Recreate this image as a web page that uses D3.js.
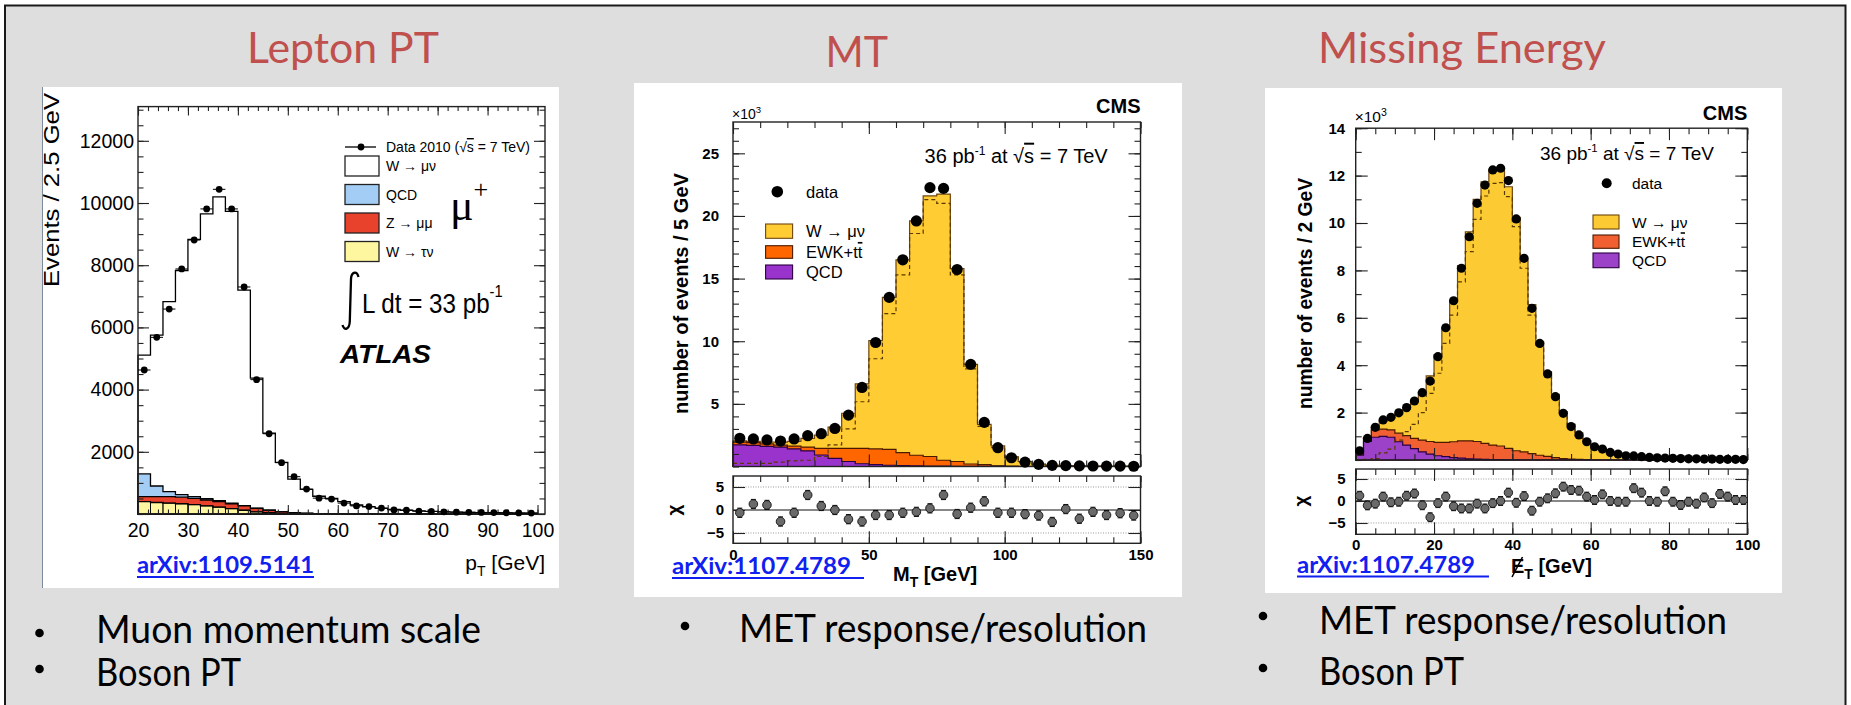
<!DOCTYPE html>
<html><head><meta charset="utf-8">
<script src="https://cdn.jsdelivr.net/npm/d3@7/dist/d3.min.js"></script>
<style>html,body{margin:0;padding:0;background:#fff;}svg{display:block;}</style>
</head><body>
<script>
// ================= DATA =================
const titles = ["Lepton PT", "MT", "Missing Energy"];
const bullets1 = ["Muon momentum scale", "Boson PT"];
const bullets2 = ["MET response/resolution"];
const bullets3 = ["MET response/resolution", "Boson PT"];
const links = ["arXiv:1109.5141", "arXiv:1107.4789 ", "arXiv:1107.4789 "];

// --- ATLAS lepton pT (bins 2.5 GeV) ---
const atlasEdges = [20,22.5,25,27.5,30,32.5,35,37.5,40,42.5,45,47.5,50,52.5,55,57.5,60,62.5,65,67.5,70,72.5,75,77.5,80,82.5,85,87.5,90,92.5,95,97.5,100];
const atlasData   = [4630,5680,6590,7880,8810,9810,10440,9810,7300,4320,2580,1650,1200,800,510,480,350,260,240,190,130,120,90,80,70,60,55,50,45,40,35,30];
const atlasWmunu  = [3820,4850,6110,7210,8270,9160,9770,9380,6930,4180,2475,1585,1075,765,558,494,396,288,229,180,150,120,100,85,70,60,50,45,40,35,30,25];
const atlasQCD    = [730,340,160,80,60,40,30,20,10,10,5,5,5,5,2,1,1,0,0,0,0,0,0,0,0,0,0,0,0,0,0,0];
const atlasZmumu  = [160,190,210,210,200,190,180,160,140,110,80,50,30,15,7,3,2,1,1,0,0,0,0,0,0,0,0,0,0,0,0,0];
const atlasWtaunu = [400,370,350,330,300,260,220,170,120,70,40,20,10,5,3,2,1,1,0,0,0,0,0,0,0,0,0,0,0,0,0,0];
const atlasXTicks = [20,30,40,50,60,70,80,90,100];
const atlasYTicks = [0,2000,4000,6000,8000,10000,12000];

// --- CMS MT (bins 5 GeV, x10^3 events) ---
const mtEdges = [0,5,10,15,20,25,30,35,40,45,50,55,60,65,70,75,80,85,90,95,100,105,110,115,120,125,130,135,140,145,150];
const mtData   = [2.25,2.2,2.12,2.03,2.2,2.46,2.62,3.04,4.1,6.31,9.9,13.5,16.5,19.6,22.26,22.2,15.72,8.15,3.52,1.5,0.7,0.35,0.17,0.09,0.07,0.05,0.04,0.03,0.03,0.02];
const mtW      = [0.11,0.1,0.15,0.25,0.38,0.7,1.05,1.7,2.8,5.15,8.65,12.13,15.4,18.7,20.8,21.25,15.4,7.95,3.21,1.58,0.76,0.38,0.19,0.1,0.07,0.05,0.04,0.03,0.03,0.02];
const mtEWK    = [0.22,0.22,0.2,0.15,0.22,0.3,0.53,0.8,1.05,1.23,1.25,1.27,1.03,0.85,0.76,0.47,0.38,0.18,0.14,0.05,0.03,0.02,0.01,0,0,0,0,0,0,0];
const mtQCD    = [1.72,1.68,1.6,1.55,1.4,1.25,0.92,0.65,0.4,0.22,0.15,0.1,0.07,0.05,0.04,0.03,0.02,0.02,0.01,0.01,0,0,0,0,0,0,0,0,0,0];
const mtWshape = [0.25,0.25,0.25,0.35,0.45,0.5,0.8,1.72,3.0,5.17,8.6,12.2,15.3,18.6,21.3,21.0,15.3,7.8,3.2,1.5,0.7,0.35,0.18,0.1,0.07,0.05,0.04,0.03,0.03,0.02];
const mtChi    = [-0.6,1.3,1.1,-2.5,-0.6,3.26,0.87,0.0,-2.0,-2.5,-1.09,-1.1,-0.6,-0.4,0.36,3.26,-0.87,0.5,1.88,-0.6,-0.6,-0.9,-1.2,-2.6,0.2,-1.9,-0.4,-1.1,-0.7,-1.2];
const mtXTicks = [0,50,100,150];
const mtYTicks = [5,10,15,20,25];
const chiTicks = [-5,0,5];

// --- CMS missing ET (bins 2 GeV, x10^3 events) ---
const metEdges = [0,2,4,6,8,10,12,14,16,18,20,22,24,26,28,30,32,34,36,38,40,42,44,46,48,50,52,54,56,58,60,62,64,66,68,70,72,74,76,78,80,82,84,86,88,90,92,94,96,98,100];
const metData  = [0.39,0.91,1.38,1.69,1.80,1.99,2.21,2.49,2.84,3.33,4.36,5.58,6.72,8.09,9.42,10.83,11.6,12.24,12.31,11.79,10.17,8.51,6.4,4.92,3.63,2.67,1.97,1.41,1.06,0.77,0.56,0.46,0.32,0.25,0.18,0.17,0.14,0.11,0.09,0.08,0.07,0.06,0.05,0.05,0.04,0.04,0.03,0.03,0.03,0.02];
const metW     = [0.05,0.05,0.13,0.35,0.51,0.82,1.12,1.54,2.01,2.77,3.71,4.83,5.93,7.39,8.82,10.22,11.04,11.61,11.76,11.04,9.85,8.1,6.29,4.79,3.58,2.67,1.98,1.46,1.12,0.8,0.59,0.47,0.34,0.26,0.2,0.16,0.13,0.11,0.09,0.08,0.07,0.06,0.05,0.05,0.04,0.04,0.03,0.03,0.03,0.02];
const metEWK   = [0.05,0.12,0.31,0.3,0.31,0.36,0.4,0.43,0.5,0.53,0.56,0.6,0.67,0.73,0.76,0.74,0.67,0.61,0.57,0.48,0.38,0.34,0.27,0.2,0.15,0.1,0.06,0.04,0.03,0.02,0.01,0,0,0,0,0,0,0,0,0,0,0,0,0,0,0,0,0,0,0];
const metQCD   = [0.2,0.78,0.96,1.0,0.96,0.77,0.63,0.48,0.34,0.25,0.18,0.14,0.1,0.08,0.05,0.04,0.03,0.02,0.02,0.01,0.01,0,0,0,0,0,0,0,0,0,0,0,0,0,0,0,0,0,0,0,0,0,0,0,0,0,0,0,0,0];
const metWshape= [0.02,0.03,0.06,0.3,0.46,0.84,1.2,1.5,2.0,2.81,3.66,4.92,6.11,7.52,8.79,10.15,11.14,11.67,11.7,11.11,9.85,8.09,6.11,4.78,3.59,2.7,2.0,1.47,1.12,0.8,0.58,0.46,0.33,0.25,0.2,0.16,0.13,0.11,0.09,0.08,0.07,0.06,0.05,0.05,0.04,0.04,0.03,0.03,0.03,0.02];
const metChi   = [1.2,-1.0,-0.6,1.0,-0.3,-0.16,1.2,1.7,-0.98,-3.7,-0.5,1.0,-1.2,-1.7,-1.7,-0.6,-1.7,-0.5,0.0,1.9,-0.4,1.1,-2.2,-0.16,0.6,1.74,3.26,2.5,2.35,1.0,0.23,1.5,0.0,-0.16,-0.16,2.9,1.9,0.0,-0.16,2.2,-0.16,-0.9,-0.16,-0.6,0.8,-0.5,1.6,1.0,0.23,0.23];
const metXTicks = [0,20,40,60,80,100];
const metYTicks = [2,4,6,8,10,12,14];

// ================= DRAWING =================
const HEL = "'Liberation Sans', Arial, Helvetica, sans-serif";
const CAL = "Lato, 'Open Sans', sans-serif";
const svg = d3.select("body").append("svg").attr("width",1851).attr("height",705);
svg.append("rect").attr("width",1851).attr("height",705).attr("fill","#fff");
svg.append("rect").attr("x",5).attr("y",5.5).attr("width",1840.5).attr("height",720)
  .attr("fill","#dedede").attr("stroke","#1a1a1a").attr("stroke-width",2);

function T(g, str, x, y, o) {
  o = o || {};
  const t = g.append("text").attr("x",x).attr("y",y)
    .attr("font-family",o.ff||HEL).attr("font-size",o.fs||14)
    .attr("font-weight",o.fw||"normal").attr("font-style",o.fst||"normal")
    .attr("fill",o.fill||"#000").attr("text-anchor",o.anchor||"start");
  if (o.tr) t.attr("transform",o.tr);
  if (o.len) t.attr("textLength",o.len).attr("lengthAdjust","spacingAndGlyphs");
  if (str !== null) t.text(str);
  return t;
}
function span(t, s, o) {
  o = o || {};
  const sp = t.append("tspan").text(s);
  if (o.dy) sp.attr("dy",o.dy);
  if (o.fs) sp.attr("font-size",o.fs);
  if (o.deco) sp.style("text-decoration",o.deco);
  return sp;
}
function stepArea(xs, ys, edges, tops) {
  const pts = edges.map((e,i)=>({x:e, v:tops[Math.min(i,tops.length-1)]}));
  return d3.area().curve(d3.curveStepAfter).x(d=>xs(d.x)).y0(ys(0)).y1(d=>ys(d.v))(pts);
}
function stepLine(xs, ys, edges, vals) {
  const pts = edges.map((e,i)=>({x:e, v:vals[Math.min(i,vals.length-1)]}));
  return d3.line().curve(d3.curveStepAfter).x(d=>xs(d.x)).y(d=>ys(d.v))(pts);
}
function rootFrame(g, xs, ys, c) {
  const [xa,xb] = xs.range(), [ya,yb] = ys.range();
  const mk = (gen, tx, ty, vals, len, fmt, pad) => {
    const a = g.append("g").attr("transform",`translate(${tx},${ty})`)
      .call(gen.tickValues(vals).tickSize(-len).tickPadding(pad||3).tickFormat(fmt || (()=>"")));
    a.select(".domain").remove();
    a.selectAll(".tick line").attr("stroke","#222").attr("stroke-width",1.1);
    a.attr("font-family",HEL).attr("font-size",c.fs).attr("font-weight",c.fw||"normal");
    a.selectAll(".tick text").attr("fill","#000");
    return a;
  };
  mk(d3.axisBottom(xs), 0, ya, c.xMaj, c.xMajL, c.xFmt, c.xPad);
  mk(d3.axisBottom(xs), 0, ya, c.xMin, c.xMinL);
  mk(d3.axisTop(xs), 0, yb, c.xMaj, c.xMajL);
  mk(d3.axisTop(xs), 0, yb, c.xMin, c.xMinL);
  mk(d3.axisLeft(ys), xa, 0, c.yMaj, c.yMajL, c.yFmt, c.yPad);
  mk(d3.axisLeft(ys), xa, 0, c.yMin, c.yMinL);
  mk(d3.axisRight(ys), xb, 0, c.yMaj, c.yMajL);
  mk(d3.axisRight(ys), xb, 0, c.yMin, c.yMinL);
  g.append("rect").attr("x",xa).attr("y",yb).attr("width",xb-xa).attr("height",ya-yb)
    .attr("fill","none").attr("stroke","#222").attr("stroke-width",1.4);
}

// ---------- slide titles ----------
const RED = "#c0504d";
T(svg, titles[0], 247, 63, {ff:CAL, fs:42, fill:RED, len:192});
T(svg, titles[1], 825.5, 67, {ff:CAL, fs:42, fill:RED, len:62.5});
T(svg, titles[2], 1318, 63, {ff:CAL, fs:42, fill:RED, len:288});

// ---------- white panels ----------
svg.append("rect").attr("x",42).attr("y",87).attr("width",517).attr("height",501).attr("fill","#fff");
svg.append("line").attr("x1",42.5).attr("x2",42.5).attr("y1",87).attr("y2",588).attr("stroke","#7d8c9c").attr("stroke-width",1);
svg.append("rect").attr("x",634).attr("y",83).attr("width",548).attr("height",514).attr("fill","#fff");
svg.append("rect").attr("x",1265).attr("y",88).attr("width",517).attr("height",505).attr("fill","#fff");

// ================= PANEL 1: ATLAS =================
{
  const g = svg.append("g");
  const xs = d3.scaleLinear([20,101.5],[138,545]);
  const ys = d3.scaleLinear([0,13100],[514,106.6]);
  const rows = atlasWmunu.map((_,i)=>({tau:atlasWtaunu[i], z:atlasZmumu[i], qcd:atlasQCD[i], w:atlasWmunu[i]}));
  const st = d3.stack().keys(["tau","z","qcd","w"])(rows);
  const fills = {w:"#ffffff", qcd:"#a4cdf5", z:"#e8412c", tau:"#fff6a0"};
  st.slice().reverse().forEach(s => {
    const tops = s.map(d=>d[1]);
    g.append("path").attr("d",stepArea(xs,ys,atlasEdges,tops))
      .attr("fill",fills[s.key]).attr("stroke","#000").attr("stroke-width",1.3);
  });
  st[0].forEach((d,i)=>{
    if (d[1] <= 0) return;
    g.append("rect").attr("x",xs(atlasEdges[i])).attr("y",ys(d[1]))
      .attr("width",xs(atlasEdges[i+1])-xs(atlasEdges[i])).attr("height",ys(0)-ys(d[1]))
      .attr("fill","none").attr("stroke","#000").attr("stroke-width",0.8);
  });
  rootFrame(g, xs, ys, {
    fs:19.5,
    xMaj:atlasXTicks, xMin:d3.range(20,101,2), xMajL:9, xMinL:4.5, xFmt:d3.format("d"), xPad:9,
    yMaj:atlasYTicks, yMin:d3.range(0,13001,500), yMajL:11, yMinL:5.5, yFmt:(d=>d===0?"":d3.format("d")(d)), yPad:4
  });
  atlasData.forEach((v,i)=>{
    const xc = xs((atlasEdges[i]+atlasEdges[i+1])/2);
    g.append("line").attr("x1",xs(atlasEdges[i])).attr("x2",xs(atlasEdges[i+1]))
      .attr("y1",ys(v)).attr("y2",ys(v)).attr("stroke","#000").attr("stroke-width",1);
    g.append("circle").attr("cx",xc).attr("cy",ys(v)).attr("r",3.4).attr("fill","#000");
  });
  T(g, "Events / 2.5 GeV", 0, 0, {fs:22.5, len:194, tr:"translate(59,287) rotate(-90)"});
  const pt = T(g, null, 545, 570, {fs:21, anchor:"end"});
  span(pt,"p"); span(pt,"T",{fs:14, dy:6}); span(pt," [GeV]",{dy:-6});
  // legend
  g.append("line").attr("x1",345).attr("x2",376).attr("y1",147).attr("y2",147).attr("stroke","#000").attr("stroke-width",1.3);
  g.append("circle").attr("cx",361).attr("cy",147).attr("r",3.4).attr("fill","#000");
  const dl = T(g, null, 386, 152, {fs:14});
  span(dl,"Data 2010 (√"); span(dl,"s",{deco:"overline"}); span(dl," = 7 TeV)");
  const legA = [["W → μν", fills.w],["QCD", fills.qcd],["Z → μμ", fills.z],["W → τν", fills.tau]];
  const legY = [156,184.5,213,241.5];
  legA.forEach((l,i)=>{
    g.append("rect").attr("x",345).attr("y",legY[i]).attr("width",34).attr("height",20)
      .attr("fill",l[1]).attr("stroke","#222").attr("stroke-width",1.3);
    T(g, l[0], 386, legY[i]+15, {fs:14});
  });
  const mu = T(g, null, 450, 220, {ff:"'Liberation Serif', serif", fs:44});
  span(mu,"μ"); span(mu,"+",{fs:26, dy:-22});
  g.append("path").attr("d","M358.5,277 C357,271 351.5,271 351,279 L349.8,321 C349.5,330 344,331 342.5,325")
    .attr("fill","none").attr("stroke","#000").attr("stroke-width",2.3);
  const ld = T(g, null, 0, 0, {fs:28, tr:"translate(362,313) scale(0.865,1)"});
  span(ld,"L dt = 33 pb"); span(ld,"-1",{fs:17, dy:-16});
  T(g, "ATLAS", 340, 363, {fs:25, fw:"bold", fst:"italic", len:91});
}

// ================= CMS PANELS =================
function cmsPanel(cfg) {
  const g = svg.append("g");
  const xs = d3.scaleLinear(cfg.xDom, cfg.xRange);
  const ys = d3.scaleLinear(cfg.yDom, cfg.yRange);
  const rs = d3.scaleLinear(cfg.rDom, cfg.rRange);
  const rows = cfg.W.map((_,i)=>({qcd:cfg.QCD[i], ewk:cfg.EWK[i], w:cfg.W[i]}));
  const st = d3.stack().keys(["qcd","ewk","w"])(rows);
  const fills = {w:cfg.cW, ewk:cfg.cE, qcd:cfg.cQ};
  const strokes = {w:"#6e4510", ewk:"#4a1a00", qcd:"#2a0040"};
  st.slice().reverse().forEach(s=>{
    const tops = s.map(d=>d[1]);
    g.append("path").attr("d",stepArea(xs,ys,cfg.edges,tops))
      .attr("fill",fills[s.key]).attr("stroke",strokes[s.key]).attr("stroke-width",1.2);
  });
  g.append("path").attr("d",stepLine(xs,ys,cfg.edges,cfg.shape))
    .attr("fill","none").attr("stroke","#5a3a00").attr("stroke-width",1.2).attr("stroke-dasharray","4,3");
  rootFrame(g, xs, ys, {
    fs:15, fw:"bold",
    xMaj:cfg.xTicks, xMin:cfg.xMinor, xMajL:12, xMinL:6, xFmt:null,
    yMaj:cfg.yTicks, yMin:cfg.yMinor, yMajL:12, yMinL:6, yFmt:d3.format("d"), yPad:cfg.yPad
  });
  cfg.data.forEach((v,i)=>{
    g.append("circle").attr("cx",xs((cfg.edges[i]+cfg.edges[i+1])/2)).attr("cy",ys(v)).attr("r",cfg.dotR).attr("fill","#000");
  });
  const [xa,xb] = xs.range();
  [-5,5].forEach(v=>g.append("line").attr("x1",xa).attr("x2",xb).attr("y1",rs(v)).attr("y2",rs(v))
      .attr("stroke","#9a9a9a").attr("stroke-width",1).attr("stroke-dasharray","1,1.5"));
  g.append("line").attr("x1",xa).attr("x2",xb).attr("y1",rs(0)).attr("y2",rs(0)).attr("stroke","#111").attr("stroke-width",1.2);
  rootFrame(g, xs, rs, {
    fs:15, fw:"bold",
    xMaj:cfg.xTicks, xMin:cfg.xMinor, xMajL:12, xMinL:6, xFmt:d3.format("d"), xPad:cfg.xPad,
    yMaj:chiTicks, yMin:[], yMajL:12, yMinL:6, yFmt:d3.format("d"), yPad:cfg.rPad
  });
  cfg.chi.forEach((v,i)=>{
    const xc = xs((cfg.edges[i]+cfg.edges[i+1])/2);
    g.append("line").attr("x1",xc).attr("x2",xc).attr("y1",rs(v-1)).attr("y2",rs(v+1)).attr("stroke","#000").attr("stroke-width",1.1);
    g.append("line").attr("x1",xc-2.5).attr("x2",xc+2.5).attr("y1",rs(v+1)).attr("y2",rs(v+1)).attr("stroke","#000");
    g.append("line").attr("x1",xc-2.5).attr("x2",xc+2.5).attr("y1",rs(v-1)).attr("y2",rs(v-1)).attr("stroke","#000");
    g.append("circle").attr("cx",xc).attr("cy",rs(v)).attr("r",cfg.chiR).attr("fill","#6a6a6a").attr("stroke","#111").attr("stroke-width",0.9);
  });
  T(g, "CMS", xb, cfg.cmsY, {fs:20, fw:"bold", anchor:"end"});
  const xt = T(g, null, xa - 1, cfg.x10Y, {fs:cfg.x10Fs});
  span(xt,"×10"); span(xt,"3",{fs:cfg.x10Fs*0.68, dy:-6});
  const lu = T(g, null, cfg.luX, cfg.luY, {fs:cfg.luFs});
  span(lu,"36 pb"); span(lu,"-1",{fs:cfg.luFs*0.6, dy:-8}); span(lu,"  at √",{dy:8}); span(lu,"s",{deco:"overline"}); span(lu," = 7 TeV");
  g.append("circle").attr("cx",cfg.leg.dotX).attr("cy",cfg.leg.dotY).attr("r",cfg.leg.dotR).attr("fill","#000");
  T(g, "data", cfg.leg.tx, cfg.leg.dotY + cfg.leg.fs*0.36, {fs:cfg.leg.fs});
  const labs = [["W → μν", cfg.cW, strokes.w], [null, cfg.cE, strokes.ewk], ["QCD", cfg.cQ, strokes.qcd]];
  labs.forEach((l,i)=>{
    const b = cfg.leg.boxes[i];
    g.append("rect").attr("x",cfg.leg.bx).attr("y",b[0]).attr("width",cfg.leg.bw).attr("height",b[1]-b[0])
      .attr("fill",l[1]).attr("stroke",l[2]).attr("stroke-width",1.1);
    const ty = (b[0]+b[1])/2 + cfg.leg.fs*0.36;
    if (l[0]) T(g, l[0], cfg.leg.tx, ty, {fs:cfg.leg.fs});
    else { const e = T(g, null, cfg.leg.tx, ty, {fs:cfg.leg.fs}); span(e,"EWK+t"); span(e,"t",{deco:"overline"}); }
  });
  T(g, cfg.yTitle, 0, 0, {fs:cfg.yTitleFs, fw:"bold", len:cfg.yTitleLen, tr:`translate(${cfg.yTitleX},${cfg.yTitleY}) rotate(-90)`});
  T(g, "χ", 0, 0, {fs:19, fw:"bold", anchor:"middle", tr:`translate(${cfg.chiX},${rs(0)}) rotate(-90)`});
  return {g, xs, ys, rs};
}

const p2 = cmsPanel({
  xDom:[0,150], xRange:[733,1140.5], yDom:[0,27.5], yRange:[466.5,122], rDom:[-7.24,7.39], rRange:[543.3,476],
  edges:mtEdges, data:mtData, W:mtW, EWK:mtEWK, QCD:mtQCD, shape:mtWshape, chi:mtChi,
  cW:"#ffcc33", cE:"#ff6600", cQ:"#9933cc",
  xTicks:mtXTicks, xMinor:d3.range(0,151,10), yTicks:mtYTicks, yMinor:d3.range(0,28,1),
  yPad:14, rPad:9, xPad:6, dotR:5.6, chiR:4.3,
  cmsY:113, x10Y:119, x10Fs:14, luX:924.6, luY:162.7, luFs:20,
  leg:{dotX:777.3, dotY:191.7, dotR:5.8, tx:806, fs:16.5, bx:765.6, bw:27, boxes:[[224,238.3],[245.7,258.3],[265,279]]},
  yTitle:"number of events / 5 GeV", yTitleFs:20, yTitleLen:241, yTitleX:688, yTitleY:414, chiX:680
});
{
  const g = p2.g;
  const mt = T(g, null, 893, 581, {fs:20, fw:"bold"});
  span(mt,"M"); span(mt,"T",{fs:14, dy:6}); span(mt," [GeV]",{dy:-6});
}

const p3 = cmsPanel({
  xDom:[0,100], xRange:[1355.7,1747.3], yDom:[0,14], yRange:[460,128.2], rDom:[-7.57,7.27], rRange:[534.3,469],
  edges:metEdges, data:metData, W:metW, EWK:metEWK, QCD:metQCD, shape:metWshape, chi:metChi,
  cW:"#fccb33", cE:"#f06030", cQ:"#9b42c8",
  xTicks:metXTicks, xMinor:d3.range(0,101,5), yTicks:metYTicks, yMinor:d3.range(0,14.1,1),
  yPad:10.5, rPad:10, xPad:5, dotR:4.6, chiR:4.2,
  cmsY:120, x10Y:122, x10Fs:15.5, luX:1540, luY:160, luFs:19,
  leg:{dotX:1606.7, dotY:183.3, dotR:5, tx:1632, fs:15.5, bx:1593, bw:26, boxes:[[215,229],[235,248.3],[253,267.7]]},
  yTitle:"number of events / 2 GeV", yTitleFs:19.5, yTitleLen:231, yTitleX:1312, yTitleY:409, chiX:1307
});
{
  const g = p3.g;
  const et = T(g, null, 1511, 573, {fs:20, fw:"bold"});
  span(et,"E"); span(et,"T",{fs:14, dy:6}); span(et," [GeV]",{dy:-6});
  g.append("line").attr("x1",1512).attr("x2",1522.5).attr("y1",577).attr("y2",557).attr("stroke","#000").attr("stroke-width",1.6);
}

// ---------- links ----------
const BLUE = "#1020f0";
[[137,573,177,314,577],[672,574,179,864,578],[1297,573,178,1489,576.5]].forEach((p,i)=>{
  T(svg, links[i].trim(), p[0], p[1], {ff:CAL, fs:22, fw:"bold", fill:BLUE, len:p[2]});
  svg.append("line").attr("x1",p[0]).attr("x2",p[3]).attr("y1",p[4]).attr("y2",p[4]).attr("stroke",BLUE).attr("stroke-width",2);
});

// ---------- bullets ----------
function bullet(bx, by, tx, ty, str, len) {
  svg.append("circle").attr("cx",bx).attr("cy",by).attr("r",4.3).attr("fill","#000");
  T(svg, str, tx, ty, {ff:CAL, fs:38, len:len});
}
bullet(39.5, 633, 96, 643, bullets1[0], 385);
bullet(39.5, 669, 96, 686, bullets1[1], 145);
bullet(685, 626, 739, 642, bullets2[0], 408);
bullet(1263, 616, 1319, 634, bullets3[0], 408);
bullet(1263, 668, 1319, 685, bullets3[1], 145);
</script>
</body></html>
